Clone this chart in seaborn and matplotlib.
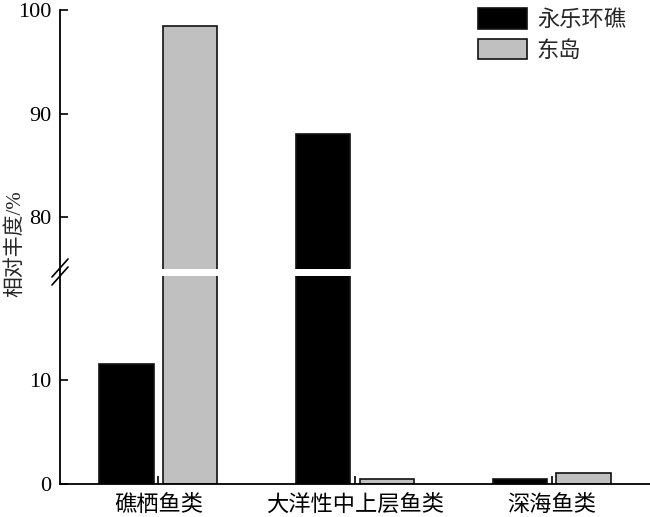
import matplotlib
matplotlib.use("Agg")
import matplotlib.pyplot as plt
import seaborn as sns
import pandas as pd
from matplotlib.lines import Line2D

categories = ['礁栖鱼类', '大洋性中上层鱼类', '深海鱼类']
series = ['永乐环礁', '东岛']
yongle = [11.5, 88.0, 0.5]
dongdao = [98.5, 0.5, 1.05]
colors = ['#000000', '#c0c0c0']

sns.set_theme(style='ticks')
plt.rcParams['font.family'] = ['Liberation Serif', 'Noto Sans CJK SC', 'DejaVu Sans']

df = pd.DataFrame({
    '类别': categories * 2,
    '站点': [series[0]] * 3 + [series[1]] * 3,
    '值': yongle + dongdao,
})

W, H = 650, 517
fig = plt.figure(figsize=(W / 100, H / 100), dpi=100)

def fx(px):
    return px / W

def fy(py):
    return 1 - py / H

left = fx(60)
ax_bot = fig.add_axes([left, fy(484), 1 - left, (484 - 276) / H])
ax_top = fig.add_axes([left, fy(269), 1 - left, (269 - 10) / H])

for ax, leg in ((ax_bot, False), (ax_top, True)):
    sns.barplot(data=df, x='类别', y='值', hue='站点', hue_order=series,
                order=categories, palette=colors, saturation=1,
                width=0.65, gap=0.15, edgecolor='#111111', linewidth=1.2,
                ax=ax, legend=leg)
    ax.set_xlim(-0.5, 2.5)
    ax.set_xlabel('')
    ax.set_ylabel('')
    for s in ('top', 'right'):
        ax.spines[s].set_visible(False)
    for s in ('left', 'bottom'):
        ax.spines[s].set_linewidth(1.3)
        ax.spines[s].set_color('black')
    ax.tick_params(axis='y', direction='in', length=6, width=1.2,
                   labelsize=16, pad=6, colors='black')
    ax.set_facecolor('white')

ax_bot.set_ylim(0, 20)
ax_bot.set_yticks([0, 10])
ax_bot.tick_params(axis='x', direction='in', length=6, width=1.2,
                   labelsize=16, pad=7.5, colors='black')

ax_top.set_ylim(75, 100)
ax_top.set_yticks([80, 90, 100])
ax_top.spines['bottom'].set_visible(False)
ax_top.set_xticks([])

handles, labels = ax_top.get_legend_handles_labels()
if ax_top.get_legend():
    ax_top.get_legend().remove()
fig.legend(handles, labels, loc='upper left', bbox_to_anchor=(fx(478), fy(8)),
           frameon=False, fontsize=16, handlelength=2.2, handleheight=1.05,
           labelspacing=0.35, handletextpad=0.45, borderpad=0, borderaxespad=0)

# continuous left spine through the gap
fig.add_artist(Line2D([left, left], [fy(276), fy(269)], transform=fig.transFigure,
                      color='black', lw=1.3))
# break marks
for yc in (268, 276):
    fig.add_artist(Line2D([fx(52), fx(68)], [fy(yc + 9), fy(yc - 9)],
                          transform=fig.transFigure, color='black', lw=1.2))

fig.text(fx(15), fy(244), '相对丰度/%', rotation=90, ha='center', va='center',
         fontsize=15)

fig.savefig('out.png', dpi=100, facecolor='white')
